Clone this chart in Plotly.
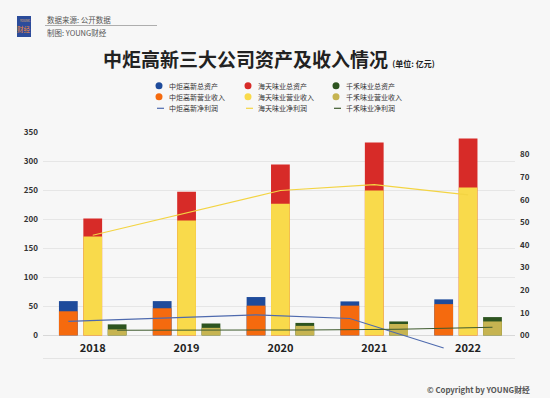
import plotly.graph_objects as go

# ---------------- data (亿元) ----------------
years = [2018, 2019, 2020, 2021, 2022]
year_labels = ["2018", "2019", "2020", "2021", "2022"]

assets_zj = [59.0, 59.0, 66.0, 58.5, 62.0]        # 中炬高新总资产
assets_ht = [201.0, 247.0, 294.0, 332.0, 339.0]   # 海天味业总资产
assets_qh = [19.0, 20.5, 21.5, 24.0, 31.5]        # 千禾味业总资产

revenue_zj = [41.5, 46.7, 51.2, 51.2, 53.8]       # 中炬高新营业收入
revenue_ht = [170.3, 197.5, 226.5, 249.5, 254.5]  # 海天味业营业收入
revenue_qh = [10.3, 13.0, 16.4, 19.6, 24.0]       # 千禾味业营业收入

profit_zj = [6.2, 7.6, 9.1, 7.5, -5.6]            # 中炬高新净利润
profit_ht = [44.3, 54.3, 64.1, 66.7, 62.2]        # 海天味业净利润
profit_qh = [2.3, 2.2, 2.4, 2.7, 3.6]             # 千禾味业净利润

left_ticks = [0, 50, 100, 150, 200, 250, 300, 350]
right_ticks = [-10, 0, 10, 20, 30, 40, 50, 60, 70, 80]
right_tick_text = ["-10", "00", "10", "20", "30", "40", "50", "60", "70", "80"]

legend_labels = [
    ["中炬高新总资产", "中炬高新营业收入", "中炬高新净利润"],
    ["海天味业总资产", "海天味业营业收入", "海天味业净利润"],
    ["千禾味业总资产", "千禾味业营业收入", "千禾味业净利润"],
]

# ---------------- style ----------------
FONT = "Noto Sans CJK SC"
C_ZJ_A, C_ZJ_R, C_ZJ_P = "#1E4B9B", "#F56A0E", "#4E6AAE"
C_HT_A, C_HT_R, C_HT_P = "#D72B28", "#F9DA4B", "#F3D443"
C_QH_A, C_QH_R, C_QH_P = "#2D5420", "#C6B451", "#3F5B2E"
BG = "#F7F7F7"

W_PX, H_PX = 550, 398
L, R, T, B = 43, 35, 132, 40
PW, PH = W_PX - L - R, H_PX - T - B

def px(x):
    return (x - L) / PW

def py(y):
    return 1 - (y - T) / PH

BAR_W = 0.2
GAP = 0.26
offs = [-GAP, 0.0, GAP]

fig = go.Figure()

groups = [
    (assets_zj, revenue_zj, profit_zj, C_ZJ_A, C_ZJ_R, C_ZJ_P, offs[0], legend_labels[0]),
    (assets_ht, revenue_ht, profit_ht, C_HT_A, C_HT_R, C_HT_P, offs[1], legend_labels[1]),
    (assets_qh, revenue_qh, profit_qh, C_QH_A, C_QH_R, C_QH_P, offs[2], legend_labels[2]),
]

# total assets bars (behind)
for a, r, p, ca, cr, cp, o, names in groups:
    fig.add_trace(go.Bar(x=years, y=a, width=BAR_W, offset=o - BAR_W / 2,
                         marker=dict(color=ca, line=dict(width=0)),
                         name=names[0], showlegend=False))
# revenue bars (in front)
for a, r, p, ca, cr, cp, o, names in groups:
    fig.add_trace(go.Bar(x=years, y=r, width=BAR_W, offset=o - BAR_W / 2,
                         marker=dict(color=cr, line=dict(width=0)),
                         name=names[1], showlegend=False))
# net profit lines (right axis)
for a, r, p, ca, cr, cp, o, names in groups:
    fig.add_trace(go.Scatter(x=[yv + o for yv in years], y=p, yaxis="y2",
                             mode="lines", line=dict(color=cp, width=1.1),
                             name=names[2], showlegend=False))

# ---------------- manual legend ----------------
shapes = []
annotations = []
col_text_x = [167, 256, 344]
row_y = [85.7, 96.8, 108.3]
colors = [[C_ZJ_A, C_ZJ_R, C_ZJ_P], [C_HT_A, C_HT_R, C_HT_P], [C_QH_A, C_QH_R, C_QH_P]]
for ci in range(3):
    tx = col_text_x[ci]
    for ri in range(3):
        yy = row_y[ri]
        col = colors[ci][ri]
        if ri < 2:
            shapes.append(dict(type="circle", xref="paper", yref="paper",
                               x0=px(tx - 11.5), x1=px(tx - 4.5),
                               y0=py(yy + 3.5), y1=py(yy - 3.5),
                               fillcolor=col, line=dict(width=0)))
        else:
            shapes.append(dict(type="line", xref="paper", yref="paper",
                               x0=px(tx - 10), x1=px(tx - 3),
                               y0=py(yy), y1=py(yy),
                               line=dict(color=col, width=1.2)))
        annotations.append(dict(text=legend_labels[ci][ri], xref="paper", yref="paper",
                                x=px(tx), y=py(yy), xanchor="left", yanchor="middle",
                                showarrow=False,
                                font=dict(family=FONT, size=7, color="#333333")))

# ---------------- header ----------------
shapes.append(dict(type="rect", xref="paper", yref="paper",
                   x0=px(17), x1=px(31), y0=py(37), y1=py(16),
                   fillcolor="#2B4C9B", line=dict(width=0)))
annotations.append(dict(text="YOUNG", xref="paper", yref="paper", x=px(24), y=py(21),
                        showarrow=False, xanchor="center", yanchor="middle",
                        font=dict(family=FONT, size=3, color="#E9B86A")))
annotations.append(dict(text="财经", xref="paper", yref="paper", x=px(24), y=py(29),
                        showarrow=False, xanchor="center", yanchor="middle",
                        font=dict(family=FONT, size=6.5, color="#F08A3A")))
annotations.append(dict(text="数据来源: 公开数据", xref="paper", yref="paper", x=px(45), y=py(19),
                        showarrow=False, xanchor="left", yanchor="middle",
                        font=dict(family=FONT, size=7.5, color="#555555")))
annotations.append(dict(text="制图: YOUNG财经", xref="paper", yref="paper", x=px(45), y=py(33),
                        showarrow=False, xanchor="left", yanchor="middle",
                        font=dict(family=FONT, size=7.5, color="#555555")))
shapes.append(dict(type="line", xref="paper", yref="paper",
                   x0=px(45), x1=px(157), y0=py(25.5), y1=py(25.5),
                   line=dict(color="#9A9A9A", width=0.8)))

# title
annotations.append(dict(text="<b>中炬高新三大公司资产及收入情况</b> <span style='font-size:8px'><b>(单位: 亿元)</b></span>",
                        xref="paper", yref="paper", x=px(101), y=py(58.5),
                        showarrow=False, xanchor="left", yanchor="middle",
                        font=dict(family=FONT, size=19, color="#222222")))

# copyright
annotations.append(dict(text="<b>© Copyright by YOUNG财经</b>", xref="paper", yref="paper",
                        x=px(532), y=py(389), showarrow=False, xanchor="right", yanchor="middle",
                        font=dict(family=FONT, size=7.8, color="#555555")))

fig.update_layout(
    width=W_PX, height=H_PX,
    margin=dict(l=L, r=R, t=T, b=B, pad=0),
    paper_bgcolor=BG, plot_bgcolor=BG,
    barmode="overlay",
    showlegend=False,
    font=dict(family=FONT, color="#333333"),
    xaxis=dict(range=[2017.47, 2022.5], tickvals=years, ticktext=year_labels,
               ticklabelposition="inside", ticks="", showgrid=False, zeroline=False,
               showline=True, linecolor="#E4E4E4", linewidth=1, ticklabelstandoff=3,
               tickfont=dict(family=FONT, size=11, color="#222222", weight="bold")),
    yaxis=dict(range=[-350 / 9, 350], tickvals=left_ticks, showgrid=True,
               gridcolor="#E6E6E6", gridwidth=1, zeroline=True, zerolinecolor="#D8D8D8",
               zerolinewidth=1, ticks="", ticklabelstandoff=4,
               tickfont=dict(family=FONT, size=8, color="#333333", weight="bold")),
    yaxis2=dict(range=[-10, 90], tickvals=right_ticks, ticktext=right_tick_text,
                overlaying="y", side="right", showgrid=False, zeroline=False, ticks="",
                ticklabelstandoff=4,
                tickfont=dict(family=FONT, size=8, color="#333333", weight="bold")),
    shapes=shapes,
    annotations=annotations,
)

fig.write_html("out.html", config={"displayModeBar": False},
               post_script="document.body.style.margin='0px';document.body.style.overflow='hidden';")
